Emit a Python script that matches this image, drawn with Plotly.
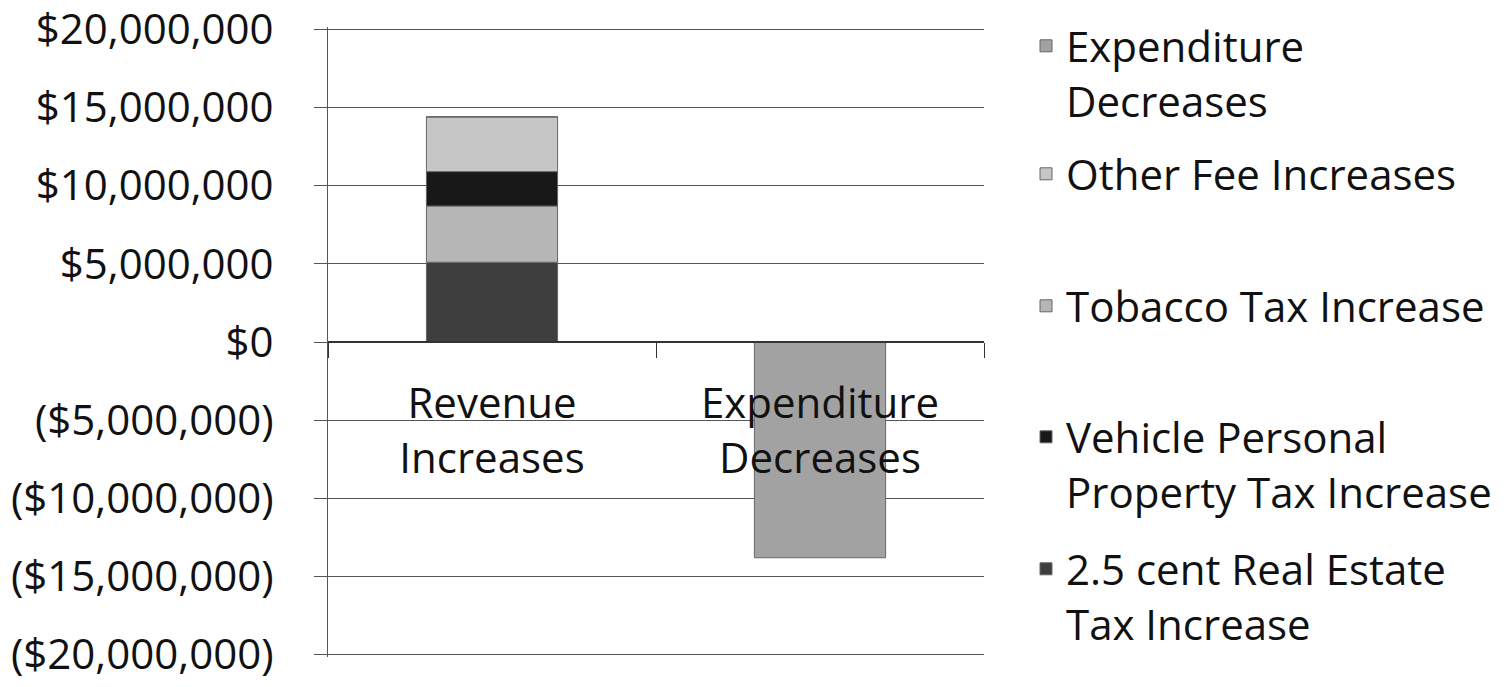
import plotly.graph_objects as go

categories = ["Revenue<br>Increases", "Expenditure<br>Decreases"]

real_estate = [5_100_000, 0]
tobacco_tax = [3_600_000, 0]
vehicle_tax = [2_200_000, 0]
other_fees = [3_500_000, 0]
expenditure = [0, -13_800_000]

y_ticks = [20_000_000, 15_000_000, 10_000_000, 5_000_000, 0,
           -5_000_000, -10_000_000, -15_000_000, -20_000_000]
y_tick_labels = ["$20,000,000", "$15,000,000", "$10,000,000", "$5,000,000", "$0",
                 "($5,000,000)", "($10,000,000)", "($15,000,000)", "($20,000,000)"]

font_family = "Open Sans, Noto Sans, sans-serif"
fsize = 42

# plot area in figure pixels (page has an 8px body margin)
PLOT_L, PLOT_R, PLOT_T, PLOT_B = 320, 976, 19, 649

def px_x(px):
    return (px - PLOT_L) / (PLOT_R - PLOT_L)

def px_y(px):
    return (PLOT_B - px) / (PLOT_B - PLOT_T)

series = [
    ("2.5 cent Real Estate<br>Tax Increase", real_estate, "#3e3e3e", "legend5"),
    ("Tobacco Tax Increase", tobacco_tax, "#b6b6b6", "legend3"),
    ("Vehicle Personal<br>Property Tax Increase", vehicle_tax, "#181818", "legend4"),
    ("Other Fee Increases", other_fees, "#c6c6c6", "legend2"),
    ("Expenditure<br>Decreases", expenditure, "#a2a2a2", "legend"),
]

fig = go.Figure()
for name, vals, color, leg in series:
    fig.add_trace(go.Bar(
        x=categories, y=vals, name=name, legend=leg,
        marker=dict(color=color, line=dict(color="#666", width=1)),
        width=0.4,
    ))

def legend_at(top_px):
    return dict(x=px_x(1018), xanchor="left", y=px_y(top_px), yanchor="top",
                valign="top", font=dict(family=font_family, size=fsize, color="#111"),
                bgcolor="rgba(0,0,0,0)", itemwidth=30)

fig.update_layout(
    barmode="relative",
    width=1509, height=687,
    margin=dict(l=PLOT_L, r=1509 - PLOT_R, t=PLOT_T, b=687 - PLOT_B, autoexpand=False),
    plot_bgcolor="white", paper_bgcolor="white",
    font=dict(family=font_family, size=fsize, color="#111"),
    showlegend=True,
    legend=legend_at(4),
    legend2=legend_at(132),
    legend3=legend_at(264),
    legend4=legend_at(395),
    legend5=legend_at(527),
    yaxis=dict(
        range=[-20_150_000, 20_150_000],
        tickvals=y_ticks, ticktext=y_tick_labels,
        showgrid=True, gridcolor="#555", gridwidth=1,
        showline=True, linecolor="#555", linewidth=1,
        zeroline=False, ticks="outside", ticklen=13, tickcolor="#555",
        ticklabelstandoff=32, ticklabeloverflow="allow", automargin=False,
        tickfont=dict(size=fsize, color="#111"),
    ),
    xaxis=dict(
        anchor="free", position=0.5,
        showline=True, linecolor="#333", linewidth=1.5,
        ticks="outside", tickson="boundaries", ticklen=15, tickcolor="#333",
        ticklabelstandoff=25, ticklabeloverflow="allow", automargin=False,
        tickfont=dict(size=fsize, color="#111"),
        showgrid=False,
    ),
)

fig.write_html("out.html")
